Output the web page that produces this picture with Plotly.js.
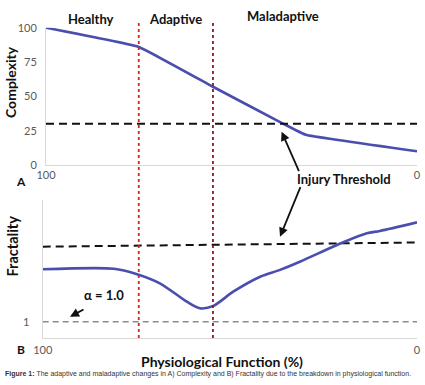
<!DOCTYPE html>
<html>
<head>
<meta charset="utf-8">
<script src="https://cdn.plot.ly/plotly-3.0.1.min.js"></script>
<style>
html,body{margin:0;padding:0;background:#fff;}
#chart{width:425px;height:385px;}
</style>
</head>
<body>
<div id="chart"></div>
<script>
// ---- data ----
const complexityX = [100, 75, 55, 36, 30, 0];
const complexityY = [100, 86, 57, 30, 22, 10];
const fractalityX = [100, 81, 75, 68.7, 61.5, 58, 54.4, 49.1, 41.9, 36.6, 31.3, 19.7, 13.4, 9.9, 0];
const fractalityY = [1.262, 1.265, 1.239, 1.192, 1.10, 1.067, 1.079, 1.15, 1.225, 1.259, 1.30, 1.397, 1.442, 1.454, 1.497];
const thresholdComplexity = 30;
const thresholdFractalityX = [100, 0];
const thresholdFractalityY = [1.375, 1.396];
const alphaLevel = 1.0;
const regionBounds = [75, 55];
const regionNames = ["Healthy", "Adaptive", "Maladaptive"];
const regionCenters = [88, 65, 36];
const xTicks = [100, 0];
const yTicksTop = [0, 25, 50, 75, 100];
const yTicksBottom = [1];

const W = 425, H = 385;
const px = v => v / W, py = v => 1 - v / H;

const font = "Lato, 'Open Sans', sans-serif";
const blue = "#4a4eae";

const traces = [
  {x: complexityX, y: complexityY, xaxis: 'x', yaxis: 'y', mode: 'lines',
   line: {color: blue, width: 2.6, shape: 'spline', smoothing: 0.25}, hoverinfo: 'skip'},
  {x: [100, 0], y: [thresholdComplexity, thresholdComplexity], xaxis: 'x', yaxis: 'y', mode: 'lines',
   line: {color: '#111', width: 2, dash: '8px,5px'}, hoverinfo: 'skip'},
  {x: [100, 0], y: [alphaLevel, alphaLevel], xaxis: 'x2', yaxis: 'y2', mode: 'lines',
   line: {color: '#8c8c8c', width: 1.6, dash: '6px,4px'}, hoverinfo: 'skip'},
  {x: thresholdFractalityX, y: thresholdFractalityY, xaxis: 'x2', yaxis: 'y2', mode: 'lines',
   line: {color: '#111', width: 2, dash: '8px,5px'}, hoverinfo: 'skip'},
  {x: fractalityX, y: fractalityY, xaxis: 'x2', yaxis: 'y2', mode: 'lines',
   line: {color: blue, width: 2.6, shape: 'spline', smoothing: 0.8}, hoverinfo: 'skip'}
];

const axisCommon = {
  showgrid: false, zeroline: false, showline: true, linecolor: '#d9d9d9', linewidth: 1,
  ticks: '', tickfont: {family: font, size: 11, color: '#595959'}, fixedrange: true
};

const txt = (text, x, y, size, extra) => Object.assign({
  text: text, xref: 'paper', yref: 'paper', x: px(x), y: py(y), showarrow: false,
  xanchor: 'center', yanchor: 'middle', font: {family: font, size: size, color: '#111'}
}, extra || {});

const arrow = (xref, yref, x, y, ax, ay) => ({
  text: '', xref: xref, yref: yref, x: x, y: y, showarrow: true, ax: ax, ay: ay,
  arrowhead: 2, arrowsize: 1, arrowwidth: 1.8, arrowcolor: '#111', standoff: 0, startstandoff: 0
});

const layout = {
  width: W, height: H, margin: {l: 0, r: 0, t: 0, b: 0},
  paper_bgcolor: '#fff', plot_bgcolor: '#fff', showlegend: false,
  xaxis: Object.assign({}, axisCommon, {domain: [px(46), px(417)], range: [100, 0], anchor: 'y',
    tickvals: xTicks, ticktext: xTicks.map(String), ticklabelstandoff: 0}),
  yaxis: Object.assign({}, axisCommon, {domain: [py(165), py(27.7)], range: [0, 100], anchor: 'x',
    tickvals: yTicksTop, ticklabelstandoff: 6}),
  xaxis2: Object.assign({}, axisCommon, {domain: [px(42.7), px(417)], range: [100, 0], anchor: 'y2',
    tickvals: xTicks, ticktext: xTicks.map(String), ticklabelstandoff: 2}),
  yaxis2: Object.assign({}, axisCommon, {domain: [py(338), py(200)], range: [0.9185, 1.6085], anchor: 'x2',
    tickvals: yTicksBottom, ticklabelstandoff: 10}),
  shapes: regionBounds.map((b, i) => ({
    type: 'line', xref: 'x', yref: 'paper', x0: b, x1: b, y0: py(338), y1: py(i === 0 ? 21.5 : 22.5),
    line: {color: i === 0 ? '#e0201c' : '#8b1a22', width: 1.8, dash: 'dot'}
  })),
  annotations: [
    ...regionNames.map((n, i) => ({
      text: '<b>' + n + '</b>', xref: 'x', yref: 'paper', x: regionCenters[i], y: py(i === 2 ? 16.5 : 19),
      showarrow: false, font: {family: font, size: 13, color: '#111'}, xanchor: 'center', yanchor: 'middle'
    })),
    txt('<b>Complexity</b>', 10.5, 82.5, 14, {textangle: -90}),
    txt('<b>Fractality</b>', 11.5, 246, 14.5, {textangle: -90}),
    txt('<b>A</b>', 20.7, 181.5, 12),
    txt('<b>B</b>', 20.7, 349.5, 12),
    txt('<b>Injury Threshold</b>', 343.5, 178.5, 13),
    arrow('x', 'y', 36.5, 24.3, 18, 41),
    arrow('x2', 'y2', 36.6, 1.425, 21, -51),
    txt('<b>α = 1.0</b>', 104, 295, 13),
    arrow('x2', 'y2', 92.7, 1.025, 15, -8),
    txt('<b>Physiological Function (%)</b>', 221.7, 361.7, 14),
    txt('<b>Figure 1:</b> The adaptive and maladaptive changes in A) Complexity and B) Fractality due to the breakdown in physiological function.',
      3, 373.5, 7, {xanchor: 'left', font: {family: "'Liberation Sans', Arial, sans-serif", size: 7, color: '#333'}})
  ]
};

Plotly.newPlot('chart', traces, layout, {displayModeBar: false, staticPlot: true});
</script>
</body>
</html>
